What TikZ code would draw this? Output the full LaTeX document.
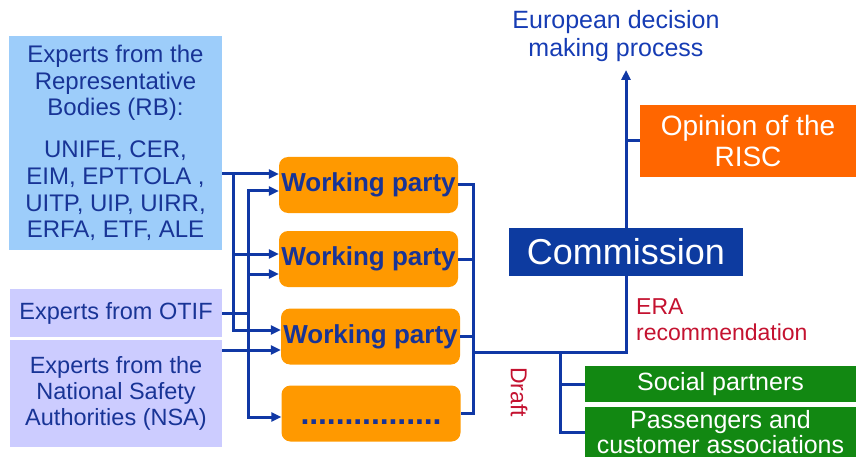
\documentclass[tikz,border=0pt]{standalone}
\usepackage{fontspec}
\setmainfont{Liberation Sans}
\usetikzlibrary{arrows.meta}
\definecolor{rbblue}{RGB}{157,205,250}
\definecolor{lav}{RGB}{204,204,255}
\definecolor{wporange}{RGB}{255,153,0}
\definecolor{navy}{RGB}{16,56,165}
\definecolor{textblue}{RGB}{24,52,150}
\definecolor{headblue}{RGB}{22,60,180}
\definecolor{commblue}{RGB}{13,59,160}
\definecolor{riscorange}{RGB}{255,102,0}
\definecolor{grn}{RGB}{18,136,18}
\definecolor{crim}{RGB}{196,18,48}
\begin{document}
\begin{tikzpicture}[x=1pt,y=-1pt,
  srcbox/.style={inner sep=0pt, align=center, text=textblue},
  wp/.style={fill=wporange, rounded corners=9pt, minimum width=179pt, minimum height=56pt,
    inner sep=0pt, text=textblue, font=\fontsize{26}{30}\selectfont\bfseries},
  whitebox/.style={inner sep=0pt, align=center, text=white},
  ln/.style={draw=navy, line width=3pt},
  arr/.style={ln, -{Triangle[length=10pt,width=9pt]}},
  lbl/.style={inner sep=0pt, text=crim, font=\fontsize{23}{26}\selectfont}]
\useasboundingbox (0,0) rectangle (856,457);

% source boxes
\node[srcbox, fill=rbblue, minimum width=213pt, minimum height=214pt,
  font=\fontsize{24}{26.7}\selectfont] (rb) at (115.5,143)
  {Experts from the\\Representative\\Bodies (RB):\\[15pt]UNIFE, CER,\\EIM, EPTTOLA ,\\UITP, UIP, UIRR,\\ERFA, ETF, ALE};
\node[srcbox, fill=lav, minimum width=212pt, minimum height=48pt,
  font=\fontsize{23.5}{26}\selectfont] (otif) at (116,313) {Experts from OTIF};
\node[srcbox, fill=lav, minimum width=212pt, minimum height=107pt,
  font=\fontsize{23.5}{26}\selectfont] (nsa) at (116,393.5)
  {Experts from the\\National Safety\\Authorities (NSA)};

% working parties
\node[wp] (wp1) at (368.5,185) {Working party};
\node[wp] (wp2) at (368.5,259) {Working party};
\node[wp] (wp3) at (370.5,336.5) {Working party};
\node[wp, font=\fontsize{32}{32}\selectfont\bfseries] (wp4) at (371,413.5)
  {\vphantom{W}\foreach \i in {1,...,16}{\makebox[8.8pt]{.}}};

% right side
\node[whitebox, fill=commblue, minimum width=234pt, minimum height=48pt,
  font=\fontsize{36}{40}\selectfont] (comm) at (626,252) {Commission};
\node[whitebox, fill=riscorange, minimum width=216pt, minimum height=72pt,
  font=\fontsize{28}{31}\selectfont] (risc) at (748,141) {Opinion of the\\RISC};
\node[whitebox, fill=grn, minimum width=271pt, minimum height=36pt,
  font=\fontsize{25}{28}\selectfont] (social) at (720.5,384) {Social partners};
\node[whitebox, fill=grn, minimum width=271pt, minimum height=50pt,
  font=\fontsize{25}{23}\selectfont] (pass) at (720.5,432) {Passengers and\\customer associations};

\node[inner sep=0pt, align=center, text=headblue, font=\fontsize{25}{28}\selectfont] (edm) at (616,36)
  {European decision\\making process};
\node[lbl, align=left, anchor=west] (era) at (636,320) {ERA\\recommendation};
\node[lbl, rotate=-90] (draft) at (519,392) {Draft};

% inputs
\draw[arr] (rb.east |- 0,174) -- (wp1.west |- 0,174);
\draw[arr] (233,174) |- (wp3.west |- 0,330);
\draw[arr] (233,254) -- (wp2.west |- 0,254);
\draw[arr] (248,417) |- (wp1.west |- 0,191);
\draw[arr] (248,191) |- (wp4.west |- 0,417);
\draw[arr] (248,274) -- (wp2.west |- 0,274);
\draw[ln] (otif.east) -- (248,313);
\draw[arr] (nsa.east |- 0,350) -- (wp3.west |- 0,350);

% outputs
\coordinate (busr) at (473,352);
\draw[ln] (wp1.east) -| (473,413.5) -- (wp4.east);
\draw[ln] (wp2.east) -- (473,259);
\draw[ln] (wp3.east) -- (473,336.5);
\draw[ln] (busr) -| (comm.south);
\coordinate (eup) at (comm.north |- 0,70);
\draw[arr] (comm.north) -- (eup);
\draw[ln] (risc.west) -- (comm.north |- risc.west);
\draw[ln] (560,352) |- (pass.west);
\draw[ln] (560,384) -- (social.west);
\end{tikzpicture}
\end{document}
